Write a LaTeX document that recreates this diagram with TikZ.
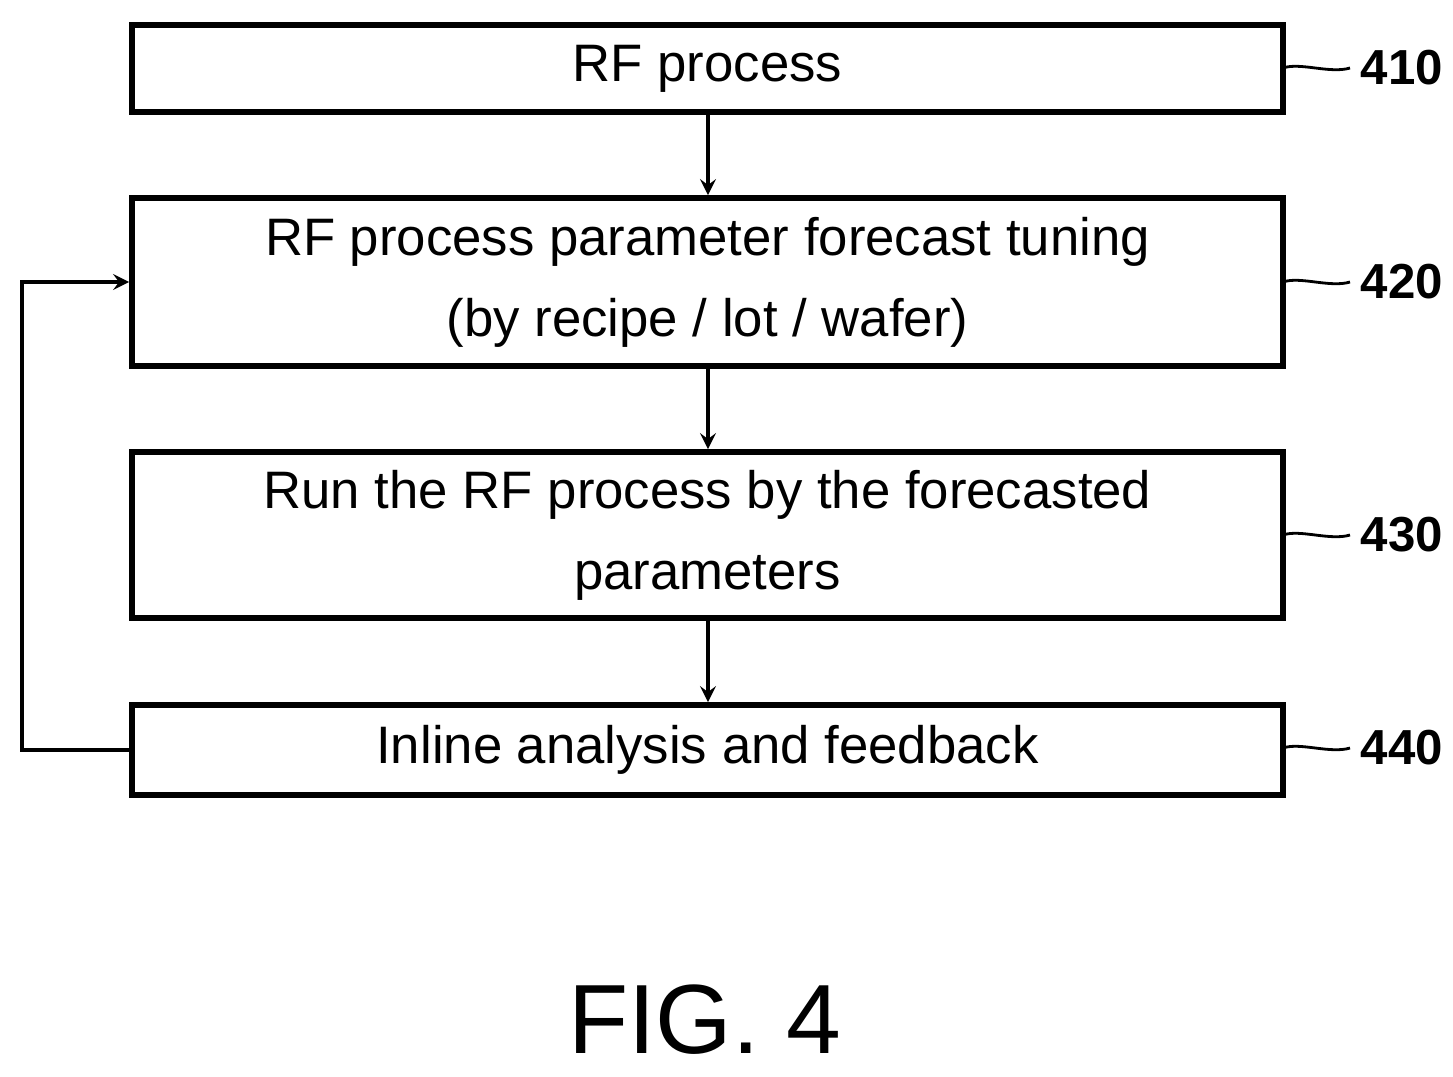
\documentclass[tikz,border=0pt]{standalone}
\usepackage{fontspec}
\setmainfont{Liberation Sans}
\usetikzlibrary{positioning}
\tikzset{stepbox/.style={draw,line width=1.6pt,minimum width=11.51cm,align=center,inner sep=0pt,
    font=\fontsize{15}{23}\selectfont},
  flowarrow/.style={->,line width=1pt,>=stealth},
  reflabel/.style={font=\fontsize{14}{16}\selectfont\bfseries,anchor=west,inner sep=0pt}}
\begin{document}
\begin{tikzpicture}
  \useasboundingbox (0,0) rectangle (14.53,-10.76);
  \node[stepbox,minimum height=0.87cm] (s410) at (7.075,-0.685) {RF process};
  \node[stepbox,minimum height=1.68cm] (s420) at (7.075,-2.82) {RF process parameter forecast tuning\\(by recipe / lot / wafer)};
  \node[stepbox,minimum height=1.66cm] (s430) at (7.075,-5.35) {Run the RF process by the forecasted\\parameters};
  \node[stepbox,minimum height=0.90cm] (s440) at (7.075,-7.50) {Inline analysis and feedback};
  \draw[flowarrow](s410.south -| 7.08,0)--(s420.north -| 7.08,0);
  \draw[flowarrow](s420.south -| 7.08,0)--(s430.north -| 7.08,0);
  \draw[flowarrow](s430.south -| 7.08,0)--(s440.north -| 7.08,0);
  \coordinate (fb) at (0.22,-7.50);
  \draw[flowarrow](s440.west)--(fb)|-(s420.west);
  % reference numerals
  \foreach \n/\y in {410/-0.68,420/-2.82,430/-5.35,440/-7.48}{
    \node[reflabel] (r\n) at (13.60,\y) {\n};
    \draw[line width=0.8pt] (12.83,\y) .. controls (13.0,\y+0.06) and (13.3,\y-0.06) .. ([xshift=-1mm]r\n.west);
  }
  \node[font=\fontsize{28}{30}\selectfont] (fig) at (7.05,-10.2) {FIG. 4};
\end{tikzpicture}
\end{document}
